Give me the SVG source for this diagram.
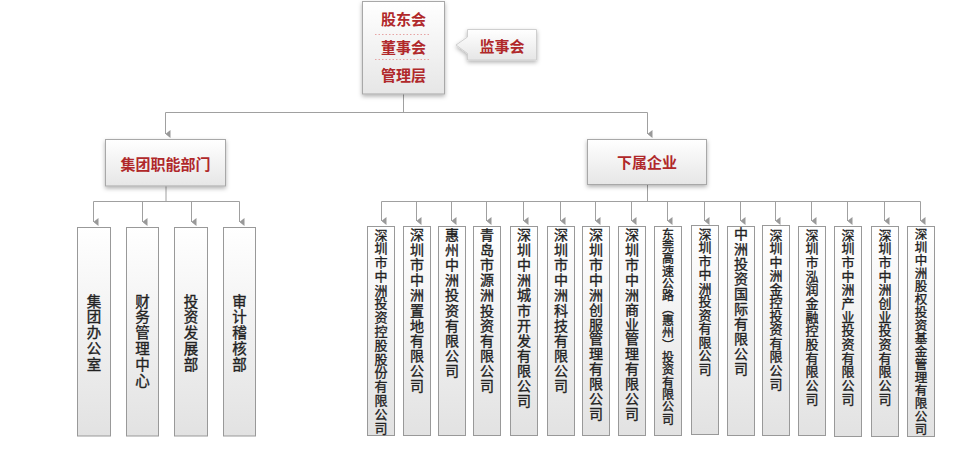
<svg xmlns="http://www.w3.org/2000/svg" width="960" height="450" viewBox="0 0 960 450">
<defs>
<linearGradient id="gBox" x1="0" y1="0" x2="0" y2="1">
<stop offset="0" stop-color="#ffffff"/>
<stop offset="1" stop-color="#e6e6e6"/>
</linearGradient>
<linearGradient id="gTall" x1="0" y1="0" x2="0" y2="1">
<stop offset="0" stop-color="#ffffff"/>
<stop offset="1" stop-color="#e2e2e2"/>
</linearGradient>
<filter id="sh" x="-20%" y="-20%" width="140%" height="140%">
<feDropShadow dx="0" dy="2" stdDeviation="2" flood-color="#000" flood-opacity="0.3"/>
</filter>
<marker id="arr" viewBox="0 0 8 5" refX="4" refY="5" markerWidth="8" markerHeight="5" markerUnits="userSpaceOnUse" orient="auto-start-reverse">
<path d="M0,0 L8,0 L4,5 Z" fill="#999"/>
</marker>
</defs>
<style>
.box{fill:url(#gBox);stroke:#a8a8a8;stroke-width:1;filter:url(#sh)}
.tall{fill:url(#gTall);stroke:#999;stroke-width:1}
.red{font-family:"Noto Sans CJK SC","Noto Sans",sans-serif;font-size:15px;font-weight:bold;fill:#b0282a;text-anchor:middle;dominant-baseline:central}
.vt{font-family:"Noto Sans CJK SC","Noto Sans",sans-serif;font-size:14px;font-weight:normal;fill:#222;stroke:#222;stroke-width:0.35;text-anchor:middle;dominant-baseline:central}
.c{font-size:13px}
.vl{font-family:"Noto Sans CJK SC","Noto Sans",sans-serif;font-size:14.5px;font-weight:normal;fill:#222;stroke:#222;stroke-width:0.35;text-anchor:middle;dominant-baseline:central}
.ln{fill:none;stroke:#a0a0a0;stroke-width:1}
.sep{stroke:#e6a4a4;stroke-width:1;stroke-dasharray:1.5,2}
</style>

<g id="connectors">
<path class="ln" d="M403.5,94 V112.5"/>
<path class="ln" d="M165.5,112.5 H647.5"/>
<path class="ln" d="M165.5,112.5 V134" marker-end="url(#arr)"/>
<path class="ln" d="M647.5,112.5 V134" marker-end="url(#arr)"/>
<path class="ln" d="M166,186 V201.5"/>
<path class="ln" d="M93.5,201.5 H239.5"/>
<path class="ln" d="M93.5,201.5 V222" marker-end="url(#arr)"/>
<path class="ln" d="M142.5,201.5 V222" marker-end="url(#arr)"/>
<path class="ln" d="M191.5,201.5 V222" marker-end="url(#arr)"/>
<path class="ln" d="M239.5,201.5 V222" marker-end="url(#arr)"/>
<path class="ln" d="M647.5,184 V201.5"/>
<path class="ln" d="M381.5,201.5 H920.5"/>
<path class="ln" d="M381.5,201.5 V221" marker-end="url(#arr)"/>
<path class="ln" d="M416.5,201.5 V221" marker-end="url(#arr)"/>
<path class="ln" d="M451.5,201.5 V221" marker-end="url(#arr)"/>
<path class="ln" d="M486.5,201.5 V221" marker-end="url(#arr)"/>
<path class="ln" d="M523.5,201.5 V221" marker-end="url(#arr)"/>
<path class="ln" d="M560.5,201.5 V221" marker-end="url(#arr)"/>
<path class="ln" d="M595.5,201.5 V221" marker-end="url(#arr)"/>
<path class="ln" d="M631.5,201.5 V221" marker-end="url(#arr)"/>
<path class="ln" d="M667.5,201.5 V221" marker-end="url(#arr)"/>
<path class="ln" d="M704.5,201.5 V221" marker-end="url(#arr)"/>
<path class="ln" d="M740.5,201.5 V221" marker-end="url(#arr)"/>
<path class="ln" d="M775.5,201.5 V221" marker-end="url(#arr)"/>
<path class="ln" d="M811.5,201.5 V221" marker-end="url(#arr)"/>
<path class="ln" d="M847.5,201.5 V221" marker-end="url(#arr)"/>
<path class="ln" d="M884.5,201.5 V221" marker-end="url(#arr)"/>
<path class="ln" d="M920.5,201.5 V221" marker-end="url(#arr)"/>
</g>

<g id="top">
<rect class="box" x="362.5" y="1.5" width="82" height="92.5"/>
<line class="sep" x1="375" y1="34.5" x2="430" y2="34.5"/>
<line class="sep" x1="375" y1="59.5" x2="430" y2="59.5"/>
<text class="red" x="403.5" y="18.5">股东会</text>
<text class="red" x="403.5" y="46.5">董事会</text>
<text class="red" x="403.5" y="74.5">管理层</text>
</g>

<g id="jianshi">
<path class="box" style="stroke:#cfcfcf" d="M467.5,29.5 H536.5 V60 H467.5 V53.5 L456,45 L467.5,37 Z"/>
<text class="red" x="502" y="45">监事会</text>
</g>

<g id="jituan">
<rect class="box" x="105.5" y="139.5" width="120" height="46.5"/>
<text class="red" x="165.5" y="163">集团职能部门</text>
</g>

<g id="xiashu">
<rect class="box" x="587.5" y="139.5" width="119" height="45"/>
<text class="red" x="647" y="161.5">下属企业</text>
</g>

<g id="dept1"><rect class="tall" x="77.5" y="227.5" width="33" height="208.5"/>
<text class="vl" x="94 94 94 94 94" y="300 315.8 331.5 347.3 363">集团办公室</text></g>
<g id="dept2"><rect class="tall" x="126.5" y="227.5" width="32" height="208.5"/>
<text class="vl" x="142.5 142.5 142.5 142.5 142.5 142.5" y="300 315.8 331.6 347.4 363.2 379">财务管理中心</text></g>
<g id="dept3"><rect class="tall" x="174.5" y="227.5" width="33" height="208.5"/>
<text class="vl" x="191 191 191 191 191" y="300 315.8 331.5 347.3 363">投资发展部</text></g>
<g id="dept4"><rect class="tall" x="223.5" y="227.5" width="32" height="208.5"/>
<text class="vl" x="239.5 239.5 239.5 239.5 239.5" y="300 315.8 331.5 347.3 363">审计稽核部</text></g>

<g id="co1"><rect class="tall" x="367.5" y="226.5" width="27" height="209"/>
<text class="vt c" x="381 381 381 381 381 381 381 381 381 381 381 381 381 381 381" y="234 247.8 261.6 275.4 289.1 302.9 316.7 330.5 344.3 358.1 371.9 385.6 399.4 413.2 427">深圳市中洲投资控股股份有限公司</text></g>
<g id="co2"><rect class="tall" x="403.5" y="226.5" width="27" height="209"/>
<text class="vt" x="417 417 417 417 417 417 417 417 417 417 417" y="234 249.1 264.2 279.3 294.4 309.5 324.6 339.7 354.8 369.9 385">深圳市中洲置地有限公司</text></g>
<g id="co3"><rect class="tall" x="438.5" y="226.5" width="27" height="209"/>
<text class="vt" x="452 452 452 452 452 452 452 452 452 452" y="234 249.1 264.2 279.3 294.4 309.6 324.7 339.8 354.9 370">惠州中洲投资有限公司</text></g>
<g id="co4"><rect class="tall" x="473.5" y="226.5" width="27" height="209"/>
<text class="vt" x="487 487 487 487 487 487 487 487 487 487 487" y="234 249.1 264.2 279.3 294.4 309.5 324.6 339.7 354.8 369.9 385">青岛市源洲投资有限公司</text></g>
<g id="co5"><rect class="tall" x="510.5" y="226.5" width="27" height="209"/>
<text class="vt" x="524 524 524 524 524 524 524 524 524 524 524 524" y="234 249.1 264.2 279.3 294.4 309.5 324.5 339.6 354.7 369.8 384.9 400">深圳中洲城市开发有限公司</text></g>
<g id="co6"><rect class="tall" x="547.5" y="226.5" width="27" height="209"/>
<text class="vt" x="561 561 561 561 561 561 561 561 561 561 561" y="234 249.1 264.2 279.3 294.4 309.5 324.6 339.7 354.8 369.9 385">深圳市中洲科技有限公司</text></g>
<g id="co7"><rect class="tall" x="582.5" y="226.5" width="27" height="209"/>
<text class="vt" x="596 596 596 596 596 596 596 596 596 596 596 596 596" y="234 248.9 263.8 278.8 293.7 308.6 323.5 338.4 353.3 368.3 383.2 398.1 413">深圳市中洲创服管理有限公司</text></g>
<g id="co8"><rect class="tall" x="618.5" y="226.5" width="27" height="209"/>
<text class="vt" x="632 632 632 632 632 632 632 632 632 632 632 632 632" y="234 248.9 263.8 278.8 293.7 308.6 323.5 338.4 353.3 368.3 383.2 398.1 413">深圳市中洲商业管理有限公司</text></g>
<g id="co9"><rect class="tall" x="654.5" y="226.5" width="27" height="209"/>
<text class="vt" style="font-size:12px" x="668 668 668 668 668 668 668 668 668 668 668 668 668 668 668 668" y="233 245.3 257.7 270 282.3 294.7 307 319.3 331.7 344 356.3 368.7 381 393.3 405.7 418">东莞高速公路︵惠州︶投资有限公司</text></g>
<g id="co10"><rect class="tall" x="691.5" y="225.5" width="27" height="209"/>
<text class="vt c" x="705 705 705 705 705 705 705 705 705 705 705" y="233 246.5 260 273.5 287 300.5 314 327.5 341 354.5 368">深圳市中洲投资有限公司</text></g>
<g id="co11"><rect class="tall" x="727.5" y="226.5" width="27" height="209"/>
<text class="vt" x="741 741 741 741 741 741 741 741 741 741" y="233 248 263 278 293 308 323 338 353 368">中洲投资国际有限公司</text></g>
<g id="co12"><rect class="tall" x="762.5" y="225.5" width="27" height="210"/>
<text class="vt c" x="776 776 776 776 776 776 776 776 776 776 776 776" y="234 247.5 261.1 274.6 288.2 301.7 315.3 328.8 342.4 355.9 369.5 383">深圳中洲金控投资有限公司</text></g>
<g id="co13"><rect class="tall" x="798.5" y="226.5" width="27" height="209"/>
<text class="vt c" x="812 812 812 812 812 812 812 812 812 812 812 812 812" y="234 247.7 261.3 275 288.7 302.3 316 329.7 343.3 357 370.7 384.3 398">深圳市泓润金融控股有限公司</text></g>
<g id="co14"><rect class="tall" x="834.5" y="226.5" width="27" height="210"/>
<text class="vt c" x="848 848 848 848 848 848 848 848 848 848 848 848 848" y="234 247.7 261.3 275 288.7 302.3 316 329.7 343.3 357 370.7 384.3 398">深圳市中洲产业投资有限公司</text></g>
<g id="co15"><rect class="tall" x="871.5" y="226.5" width="27" height="210"/>
<text class="vt c" x="885 885 885 885 885 885 885 885 885 885 885 885 885" y="234 247.7 261.3 275 288.7 302.3 316 329.7 343.3 357 370.7 384.3 398">深圳市中洲创业投资有限公司</text></g>
<g id="co16"><rect class="tall" x="907.5" y="226.5" width="27" height="210"/>
<text class="vt" style="font-size:12.5px" x="921 921 921 921 921 921 921 921 921 921 921 921 921 921 921 921" y="233 246 259 272 285 298 311 324 337 350 363 376 389 402 415 428">深圳中洲股权投资基金管理有限公司</text></g>
</svg>
